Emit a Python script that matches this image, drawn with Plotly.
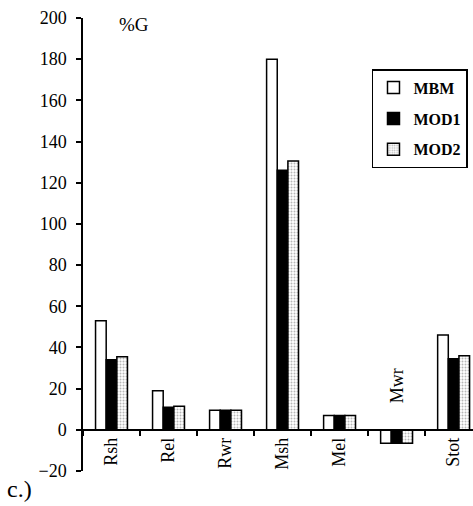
import plotly.graph_objects as go

categories = ["Rsh", "Rel", "Rwr", "Msh", "Mel", "Mwr", "Stot"]
mbm = [53, 19, 9.5, 180, 7, -6.5, 46]
mod1 = [34, 11, 9.5, 126, 7, -6.5, 34.5]
mod2 = [35.5, 11.5, 9.5, 130.5, 7, -6.5, 36]
y_ticks = list(range(-20, 201, 20))
series_names = ["MBM", "MOD1", "MOD2"]

SERIF = "Liberation Serif, Times New Roman, serif"
YMIN, YMAX = -20, 200

fig = go.Figure()
fig.add_trace(go.Bar(
    x=categories, y=mbm, name=series_names[0], legendgroup="a",
    marker=dict(color="white", line=dict(color="black", width=1.5)),
))
fig.add_trace(go.Bar(
    x=categories, y=mod1, name=series_names[1], legendgroup="b",
    marker=dict(color="black", line=dict(color="black", width=1.5)),
))
fig.add_trace(go.Bar(
    x=categories, y=mod2, name=series_names[2], legendgroup="c",
    marker=dict(color="white", line=dict(color="black", width=1.5),
                pattern=dict(shape=".", fgcolor="#707070", bgcolor="white",
                             size=3, solidity=0.35)),
))

ticktext = [c if c != "Mwr" else "" for c in categories]

fig.update_layout(
    width=473, height=506,
    margin=dict(l=83, r=0, t=18, b=35),
    paper_bgcolor="white", plot_bgcolor="white",
    barmode="group", bargap=0.44, bargroupgap=0,
    font=dict(family=SERIF, color="black", size=18),
    showlegend=True,
    legend=dict(
        x=0.741, y=0.887, xanchor="left", yanchor="top",
        bordercolor="black", borderwidth=1.5, bgcolor="white",
        font=dict(family=SERIF, size=16, color="black", weight="bold"),
        tracegroupgap=7, itemwidth=30,
    ),
    xaxis=dict(
        type="category", range=[-0.5, 6.34],
        anchor="free", position=(0 - YMIN) / (YMAX - YMIN),
        showline=True, linecolor="black", linewidth=1.5,
        ticks="outside", ticklen=5, tickcolor="black", tickwidth=1.5,
        tickson="boundaries",
        tickvals=categories, ticktext=ticktext,
        tickangle=-90, tickfont=dict(family=SERIF, size=18),
        showgrid=False, zeroline=False,
    ),
    yaxis=dict(
        range=[YMIN, YMAX], tickvals=y_ticks,
        showline=True, linecolor="black", linewidth=1.5,
        ticks="outside", ticklen=5, tickcolor="black", tickwidth=1.5,
        tickfont=dict(family=SERIF, size=18),
        showgrid=False, zeroline=False, ticklabelstandoff=6,
    ),
    annotations=[
        dict(text="%G", x=0.13, y=0.985, xref="paper", yref="paper",
             showarrow=False, xanchor="center", yanchor="middle",
             font=dict(family=SERIF, size=19)),
        dict(text="Mwr", x="Mwr", y=12, xref="x", yref="y",
             showarrow=False, textangle=-90, xanchor="center", yanchor="bottom",
             font=dict(family=SERIF, size=18)),
        dict(text="c.)", x=-78 / 390, y=-(489 - 471) / 453, xref="paper", yref="paper",
             showarrow=False, xanchor="left", yanchor="middle",
             font=dict(family=SERIF, size=24)),
    ],
)

fig.write_html("out.html")
